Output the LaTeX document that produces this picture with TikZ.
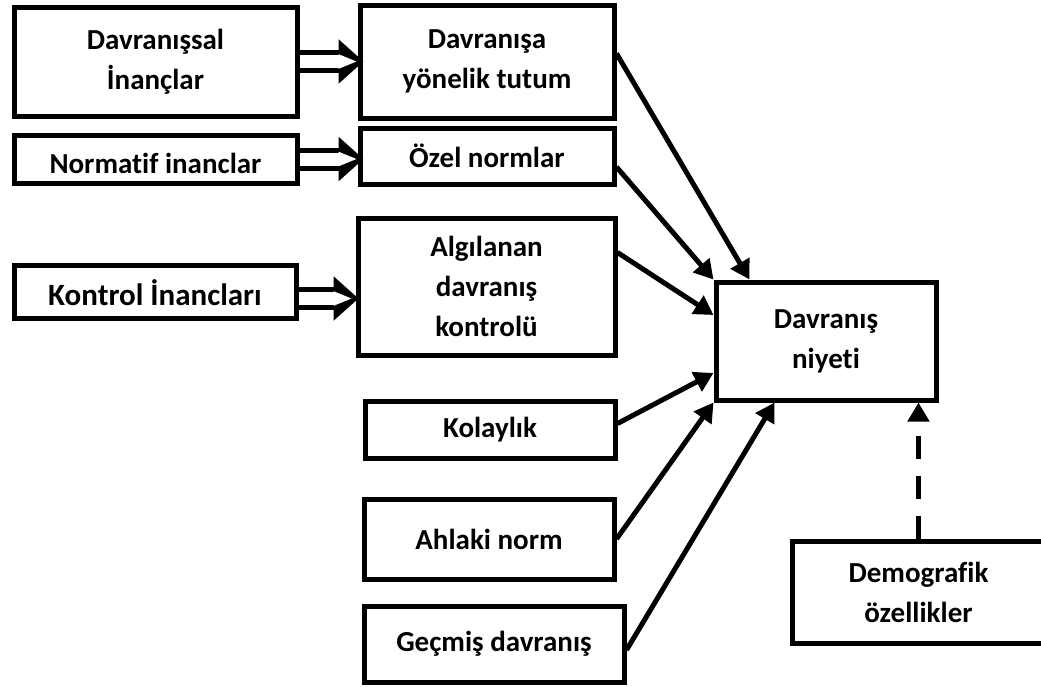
\documentclass[tikz,border=0pt]{standalone}
\usepackage{fontspec}
\setmainfont{Carlito}[Ligatures=NoCommon]
\usetikzlibrary{arrows.meta, positioning}

\begin{document}
\begin{tikzpicture}[x=1pt, y=-1pt,
        kutu/.style={draw, line width=5pt, align=center, inner sep=0pt,
            font=\bfseries\fontsize{29}{40}\selectfont},
        alcak/.style={text height=28pt, text depth=0pt},
        ok/.style={line width=5pt, -{Triangle[length=19pt, width=21pt]}},
        kesikok/.style={ok, dash pattern=on 23pt off 17pt},
        ciftok/.style={line width=23pt, -{Triangle[length=25pt, width=43pt]},
            postaction={draw, white, line width=13pt, shorten >=6pt,
                -{Triangle[length=19pt, width=13pt]}}}
    ]
    \useasboundingbox (0, 0) rectangle (1041, 686);
    \clip (0, 0) rectangle (1041, 686);

    % sol sutun
    \node[kutu, minimum width=283pt, minimum height=109pt] (inanc) at (155.5, 61.5)
        {Davranışsal\\İnançlar};
    \node[kutu, alcak, minimum width=283pt, minimum height=48pt] (normatif) at (155.5, 159)
        {Normatif inanclar};
    \node[kutu, alcak, minimum width=282pt, minimum height=53pt,
        font=\bfseries\fontsize{31}{40}\selectfont] (kontrol) at (155, 291.5)
        {Kontrol İnancları};

    % orta sutun
    \node[kutu, minimum width=254pt, minimum height=113pt] (tutum) at (487, 61.5)
        {Davranışa\\yönelik tutum};
    \node[kutu, minimum width=254pt, minimum height=56pt] (ozel) at (487, 156)
        {Özel normlar};
    \node[kutu, minimum width=257pt, minimum height=137pt] (algi) at (486.5, 286.5)
        {Algılanan\\davranış\\kontrolü};
    \node[kutu, minimum width=250pt, minimum height=57pt] (kolay) at (490, 429.5)
        {Kolaylık};
    \node[kutu, minimum width=250pt, minimum height=80pt] (ahlak) at (489, 539)
        {Ahlaki norm};
    \node[kutu, minimum width=260pt, minimum height=76pt] (gecmis) at (494, 644)
        {Geçmiş davranış};

    % sag
    \node[kutu, minimum width=220pt, minimum height=118pt] (niyet) at (826, 341)
        {Davranış\\niyeti};
    \node[kutu, minimum width=253pt, minimum height=102pt] (demo) at (918.5, 592)
        {Demografik\\özellikler};

    \draw
    (inanc.east) edge[ciftok] ([xshift=6pt]inanc.east -| tutum.west)
    (normatif.east) edge[ciftok] ([xshift=6pt]normatif.east -| ozel.west)
    ([yshift=-7pt]kontrol.east) edge[ciftok] ([xshift=3pt, yshift=-7pt]kontrol.east -| algi.west);

    \draw
    ([yshift=8pt]tutum.east) edge[ok] ([xshift=36pt]niyet.north west)
    ([yshift=-11pt]ozel.east) edge[ok] (niyet.north west)
    ([yshift=34pt]algi.east) edge[ok] ([yshift=26pt]niyet.west)
    ([yshift=6pt]kolay.east) edge[ok] ([yshift=-32pt]niyet.west)
    (ahlak.east) edge[ok] (niyet.south west)
    ([yshift=-6pt]gecmis.east) edge[ok] ([xshift=61pt]niyet.south west)
    (demo.north) edge[kesikok] (demo.north |- niyet.south);
\end{tikzpicture}
\end{document}
